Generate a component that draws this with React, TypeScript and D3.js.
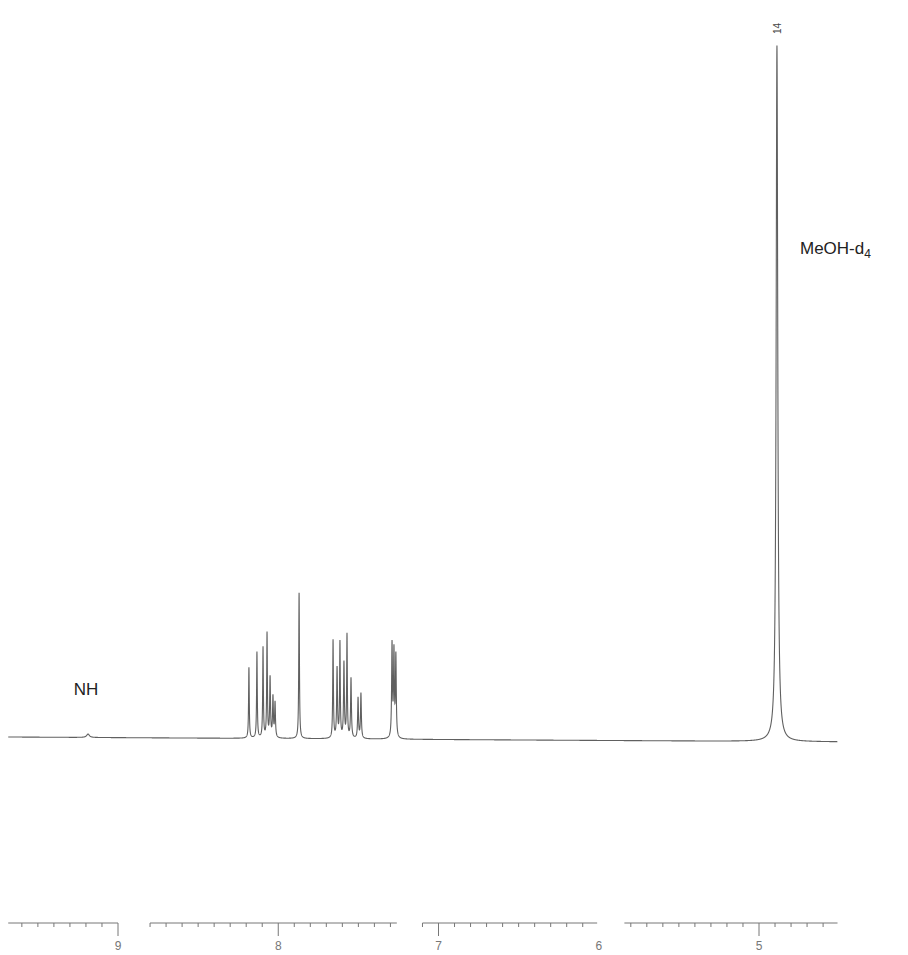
import React, { useMemo } from 'react';
import * as d3 from 'd3';

// Peak list (ppm, relative intensity, half width in ppm)
const peakShifts = [9.187, 8.183, 8.133, 8.095, 8.07, 8.051, 8.033, 8.02, 7.87, 7.658, 7.633, 7.615, 7.59, 7.571, 7.546, 7.502, 7.484, 7.29, 7.278, 7.266, 4.888];
const peakHeights = [0.5, 10.2, 12.4, 13.0, 15.0, 8.6, 5.8, 5.0, 21.0, 14.1, 10.0, 13.7, 10.8, 14.8, 8.6, 5.8, 6.5, 13.4, 12.2, 11.7, 100.3];
const peakWidths = [0.01, 0.0025, 0.0025, 0.0025, 0.0025, 0.003, 0.003, 0.003, 0.0025, 0.0025, 0.003, 0.0025, 0.003, 0.0025, 0.003, 0.003, 0.003, 0.003, 0.003, 0.003, 0.006];

// baseline drift (intensity units) at left / right edge of the window
const baselineDrift = [0, -0.7];

const ppmRange = [9.685, 4.51];
const axisSegments: [number, number][] = [
  [9.685, 9.0],
  [8.8, 7.26],
  [7.1, 6.01],
  [5.84, 4.51],
];
const tickLabels = [9, 8, 7, 6, 5];

const W = 908;
const H = 955;

export default function App() {
  const x = d3.scaleLinear().domain([9, 5]).range([118, 759]);
  const y = d3.scaleLinear().domain([0, 100]).range([737, 43]);

  const spectrum = useMemo(() => {
    const pts: [number, number][] = [];
    const step = 0.0005;
    const [hi, lo] = ppmRange;
    for (let p = hi; p >= lo; p -= step) {
      const t = (hi - p) / (hi - lo);
      let v = baselineDrift[0] + (baselineDrift[1] - baselineDrift[0]) * t;
      for (let i = 0; i < peakShifts.length; i++) {
        const d = (p - peakShifts[i]) / peakWidths[i];
        v += peakHeights[i] / (1 + d * d);
      }
      pts.push([p, v]);
    }
    return pts;
  }, []);

  const line = d3
    .line<[number, number]>()
    .x((d) => x(d[0]))
    .y((d) => y(d[1]));

  const axisY = 923;

  // ticks every 0.1 ppm inside each segment
  const ticks: { p: number; major: boolean }[] = [];
  axisSegments.forEach(([a, b]) => {
    const start = Math.floor(a * 10);
    const end = Math.ceil(b * 10);
    for (let k = start; k >= end; k--) {
      const p = k / 10;
      if (p <= a + 1e-6 && p >= b - 1e-6) ticks.push({ p, major: k % 10 === 0 });
    }
  });

  const solvent = peakShifts[peakShifts.length - 1];

  return (
    <div style={{ position: 'fixed', left: 0, top: 0, background: '#fff' }}>
      <svg width={W} height={H} style={{ display: 'block' }} fontFamily="'Liberation Sans', Arial, sans-serif">
        <rect width={W} height={H} fill="#fff" />

        <path d={line(spectrum) || ''} fill="none" stroke="#606060" strokeWidth={1.1} />

        {/* axis */}
        <g stroke="#777" strokeWidth={1}>
          {axisSegments.map(([a, b], i) => (
            <line key={i} x1={x(a)} x2={x(b)} y1={axisY} y2={axisY} />
          ))}
          {ticks.map((t, i) => (
            <line key={i} x1={x(t.p)} x2={x(t.p)} y1={axisY} y2={axisY + (t.major ? 13 : 4)} />
          ))}
        </g>
        {tickLabels.map((l) => (
          <text key={l} x={x(l)} y={axisY + 27} textAnchor="middle" fontSize={12} fill="#777">
            {l}
          </text>
        ))}

        {/* annotations */}
        <text x={86} y={695} textAnchor="middle" fontSize={17} fill="#222">
          NH
        </text>
        <text x={800} y={254} fontSize={17} fill="#222">
          MeOH-d<tspan fontSize={12} dy={4}>4</tspan>
        </text>
        <text
          transform={`translate(${x(solvent) + 4},${34}) rotate(-90)`}
          fontSize={10}
          fill="#444"
        >
          14
        </text>
      </svg>
    </div>
  );
}
